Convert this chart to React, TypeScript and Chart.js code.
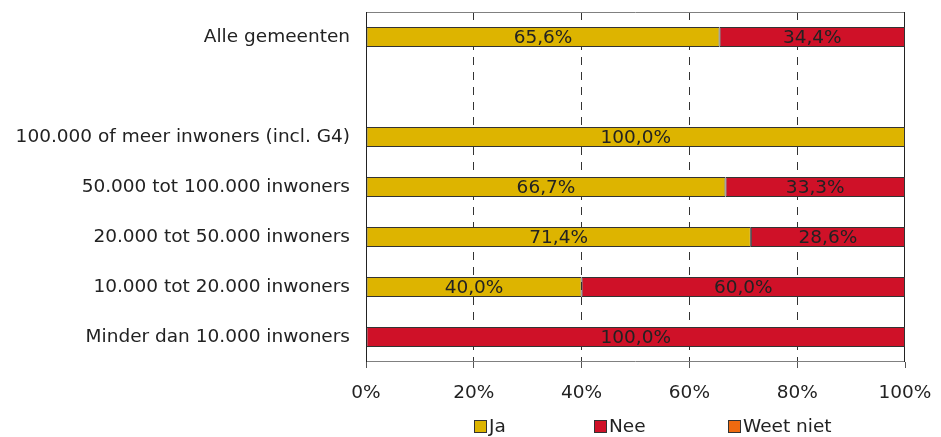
import React, { useEffect, useRef } from "react";
import { Chart, registerables } from "chart.js";

Chart.register(...registerables);

const categories = [
  "Alle gemeenten",
  "",
  "100.000 of meer inwoners (incl. G4)",
  "50.000 tot 100.000 inwoners",
  "20.000 tot 50.000 inwoners",
  "10.000 tot 20.000 inwoners",
  "Minder dan 10.000 inwoners",
];
const jaValues = [65.6, null, 100.0, 66.7, 71.4, 40.0, 0];
const neeValues = [34.4, null, 0, 33.3, 28.6, 60.0, 100.0];
const weetNietValues = [0, null, 0, 0, 0, 0, 0];
const seriesNames = ["Ja", "Nee", "Weet niet"];
const seriesColors = ["#DDB400", "#CF1128", "#EE6A10"];
const xTicks = [0, 20, 40, 60, 80, 100];

const FONT = "'DejaVu Sans', sans-serif";
const FS = 18.5;
const TEXT = "#222222";

const fmt = (v: number) => v.toFixed(1).replace(".", ",") + "%";

const labelPlugin = {
  id: "barLabels",
  afterDatasetsDraw(chart: any) {
    const ctx = chart.ctx;
    ctx.save();
    ctx.font = `${FS}px ${FONT}`;
    ctx.fillStyle = TEXT;
    ctx.textAlign = "center";
    ctx.textBaseline = "middle";
    chart.data.datasets.forEach((ds: any, di: number) => {
      const meta = chart.getDatasetMeta(di);
      meta.data.forEach((el: any, i: number) => {
        const v = ds.data[i];
        if (v == null || v === 0) return;
        const x = (el.x + el.base) / 2;
        ctx.fillText(fmt(v), x, el.y + 1);
      });
    });
    ctx.restore();
  },
};

const framePlugin = {
  id: "frame",
  beforeDatasetsDraw(chart: any) {
    const { ctx, chartArea: a } = chart;
    ctx.save();
    ctx.lineWidth = 1;
    ctx.strokeStyle = "#808080";
    ctx.beginPath();
    ctx.moveTo(a.left, a.top + 0.5);
    ctx.lineTo(a.right, a.top + 0.5);
    ctx.moveTo(a.left, a.bottom - 0.5);
    ctx.lineTo(a.right, a.bottom - 0.5);
    ctx.stroke();
    ctx.strokeStyle = "#222222";
    ctx.beginPath();
    ctx.moveTo(a.left + 0.5, a.top);
    ctx.lineTo(a.left + 0.5, a.bottom);
    ctx.moveTo(a.right - 0.5, a.top);
    ctx.lineTo(a.right - 0.5, a.bottom);
    ctx.stroke();
    ctx.restore();
  },
};

const legendPlugin = {
  id: "customLegend",
  afterDraw(chart: any) {
    const ctx = chart.ctx;
    const positions = [474, 594, 728];
    const y = 426;
    ctx.save();
    ctx.font = `${FS}px ${FONT}`;
    ctx.textBaseline = "middle";
    ctx.textAlign = "left";
    seriesNames.forEach((name, i) => {
      const x = positions[i];
      ctx.fillStyle = seriesColors[i];
      ctx.fillRect(x, y - 6, 12, 12);
      ctx.strokeStyle = "#333333";
      ctx.lineWidth = 1;
      ctx.strokeRect(x + 0.5, y - 5.5, 12, 12);
      ctx.fillStyle = TEXT;
      ctx.fillText(name, x + 15, y + 1);
    });
    ctx.restore();
  },
};

export default function App() {
  const ref = useRef<HTMLCanvasElement>(null);
  useEffect(() => {
    const chart = new Chart(ref.current!, {
      type: "bar",
      data: {
        labels: categories,
        datasets: [jaValues, neeValues, weetNietValues].map((d, i) => ({
          label: seriesNames[i],
          data: d as any,
          backgroundColor: seriesColors[i],
          borderColor: "#333333",
          borderWidth: 1,
          borderSkipped: false,
          barPercentage: 0.4,
          categoryPercentage: 1,
        })),
      },
      options: {
        indexAxis: "y",
        animation: false,
        responsive: false,
        maintainAspectRatio: false,
        layout: { padding: { left: 0, right: 36, top: 12, bottom: 0 } },
        plugins: {
          legend: { display: false },
          tooltip: { enabled: false },
        },
        scales: {
          x: {
            stacked: true,
            min: 0,
            max: 100,
            afterBuildTicks(scale: any) {
              scale.ticks = xTicks.map((v) => ({ value: v }));
            },
            afterFit(scale: any) {
              scale.height = 75;
              scale.paddingLeft = 0;
              scale.paddingRight = 0;
            },
            border: { display: false, dash: [8, 7] },
            grid: {
              color: (c: any) =>
                c.tick && (c.tick.value === 0 || c.tick.value === 100) ? "rgba(0,0,0,0)" : "#333333",
              tickColor: "#555555",
              tickLength: 6,
              tickBorderDash: [],
              drawOnChartArea: true,
            },
            ticks: {
              padding: 14,
              color: TEXT,
              font: { family: FONT, size: FS },
              callback: (v: any) => v + "%",
              maxRotation: 0,
            },
          } as any,
          y: {
            stacked: true,
            afterFit(scale: any) {
              scale.width = 366;
              scale.paddingTop = 0;
              scale.paddingBottom = 0;
            },
            border: { display: false },
            grid: { display: false, drawTicks: false },
            ticks: {
              padding: 16,
              color: TEXT,
              font: { family: FONT, size: FS },
              autoSkip: false,
            },
          },
        },
      },
      plugins: [framePlugin, labelPlugin, legendPlugin],
    });
    return () => chart.destroy();
  }, []);
  return (
    <div style={{ position: "fixed", left: 0, top: 0, width: 941, height: 437, background: "#fff" }}>
      <canvas ref={ref} width={941} height={437} style={{ width: 941, height: 437 }} />
    </div>
  );
}
